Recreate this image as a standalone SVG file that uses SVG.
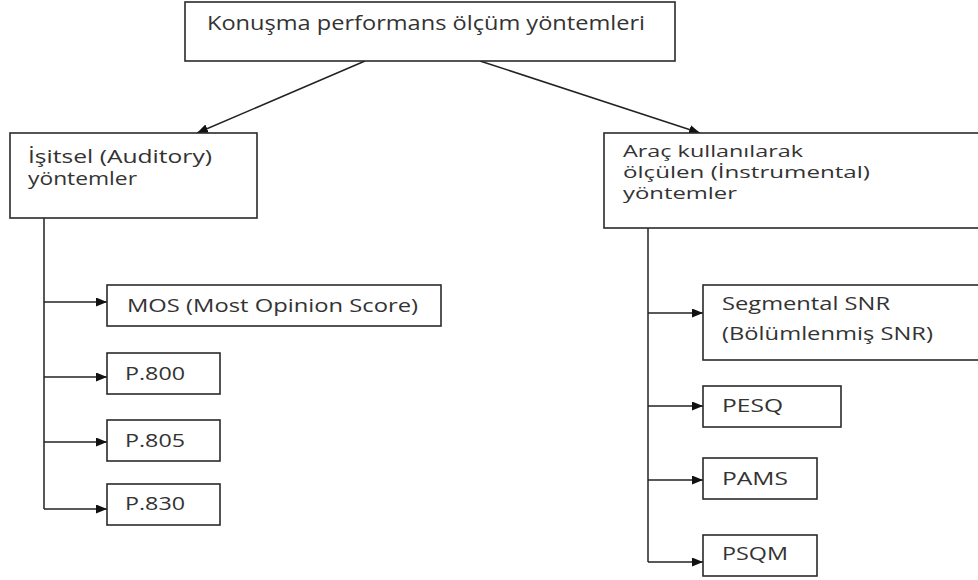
<svg xmlns="http://www.w3.org/2000/svg" width="978" height="580" viewBox="0 0 978 580">
  <style>
    .box { fill: #ffffff; stroke: #2a2a2a; stroke-width: 1.6; }
    .lbl { font-family: "Open Sans", "Noto Sans", "Liberation Sans", sans-serif; font-size: 18px; fill: #333333; }
    .ttl { font-size: 20px; }
    .tight { font-size: 16.5px; }
    .wire { fill: none; stroke: #222222; stroke-width: 1.5; }
  </style>
  <defs>
    <marker id="arrow" markerUnits="userSpaceOnUse" markerWidth="12" markerHeight="10" refX="11" refY="4.5" orient="auto">
      <path d="M0,0 L11,4.5 L0,9 z" fill="#111111"/>
    </marker>
  </defs>
  <rect width="978" height="580" fill="#ffffff"/>

  <!-- connectors -->
  <g id="connectors">
    <line class="wire" x1="365" y1="61" x2="197" y2="133" marker-end="url(#arrow)"/>
    <line class="wire" x1="480" y1="61" x2="700" y2="133" marker-end="url(#arrow)"/>
    <path class="wire" d="M44,218 V509"/>
    <line class="wire" x1="44" y1="302" x2="107" y2="302" marker-end="url(#arrow)"/>
    <line class="wire" x1="44" y1="377" x2="107" y2="377" marker-end="url(#arrow)"/>
    <line class="wire" x1="44" y1="442" x2="107" y2="442" marker-end="url(#arrow)"/>
    <line class="wire" x1="44" y1="509" x2="107" y2="509" marker-end="url(#arrow)"/>
    <path class="wire" d="M648,228 V562"/>
    <line class="wire" x1="648" y1="313" x2="703" y2="313" marker-end="url(#arrow)"/>
    <line class="wire" x1="648" y1="406" x2="703" y2="406" marker-end="url(#arrow)"/>
    <line class="wire" x1="648" y1="480" x2="703" y2="480" marker-end="url(#arrow)"/>
    <line class="wire" x1="648" y1="562" x2="703" y2="562" marker-end="url(#arrow)"/>
  </g>

  <!-- root -->
  <g id="root">
    <rect class="box" x="185" y="2" width="490" height="59"/>
    <text class="lbl ttl" x="207" y="30" textLength="438" lengthAdjust="spacingAndGlyphs">Konuşma performans ölçüm yöntemleri</text>
  </g>

  <!-- auditory branch -->
  <g id="auditory">
    <rect class="box" x="10" y="133" width="247" height="85"/>
    <text class="lbl" x="28" y="163" textLength="184" lengthAdjust="spacingAndGlyphs">İşitsel (Auditory)</text>
    <text class="lbl" x="28" y="185" textLength="109" lengthAdjust="spacingAndGlyphs">yöntemler</text>
  </g>
  <g id="mos">
    <rect class="box" x="107" y="285" width="334" height="41"/>
    <text class="lbl" x="127" y="312" textLength="291" lengthAdjust="spacingAndGlyphs">MOS (Most Opinion Score)</text>
  </g>
  <g id="p800">
    <rect class="box" x="107" y="353" width="113" height="41"/>
    <text class="lbl" x="125" y="380" textLength="60" lengthAdjust="spacingAndGlyphs">P.800</text>
  </g>
  <g id="p805">
    <rect class="box" x="107" y="420" width="113" height="41"/>
    <text class="lbl" x="125" y="447" textLength="60" lengthAdjust="spacingAndGlyphs">P.805</text>
  </g>
  <g id="p830">
    <rect class="box" x="107" y="484" width="113" height="41"/>
    <text class="lbl" x="125" y="510" textLength="60" lengthAdjust="spacingAndGlyphs">P.830</text>
  </g>

  <!-- instrumental branch -->
  <g id="instrumental">
    <rect class="box" x="604" y="133" width="384" height="95"/>
    <text class="lbl tight" x="623" y="157" textLength="180" lengthAdjust="spacingAndGlyphs">Araç kullanılarak</text>
    <text class="lbl tight" x="623" y="178" textLength="247" lengthAdjust="spacingAndGlyphs">ölçülen (İnstrumental)</text>
    <text class="lbl tight" x="623" y="199" textLength="114" lengthAdjust="spacingAndGlyphs">yöntemler</text>
  </g>
  <g id="segsnr">
    <rect class="box" x="703" y="285" width="285" height="75"/>
    <text class="lbl" x="722" y="310" textLength="168" lengthAdjust="spacingAndGlyphs">Segmental SNR</text>
    <text class="lbl" x="722" y="340" textLength="211" lengthAdjust="spacingAndGlyphs">(Bölümlenmiş SNR)</text>
  </g>
  <g id="pesq">
    <rect class="box" x="703" y="386" width="138" height="41"/>
    <text class="lbl" x="722" y="412" textLength="61" lengthAdjust="spacingAndGlyphs">PESQ</text>
  </g>
  <g id="pams">
    <rect class="box" x="703" y="458" width="114" height="41"/>
    <text class="lbl" x="722" y="485" textLength="66" lengthAdjust="spacingAndGlyphs">PAMS</text>
  </g>
  <g id="psqm">
    <rect class="box" x="703" y="535" width="114" height="41"/>
    <text class="lbl" x="722" y="560" textLength="66" lengthAdjust="spacingAndGlyphs">PSQM</text>
  </g>
</svg>
